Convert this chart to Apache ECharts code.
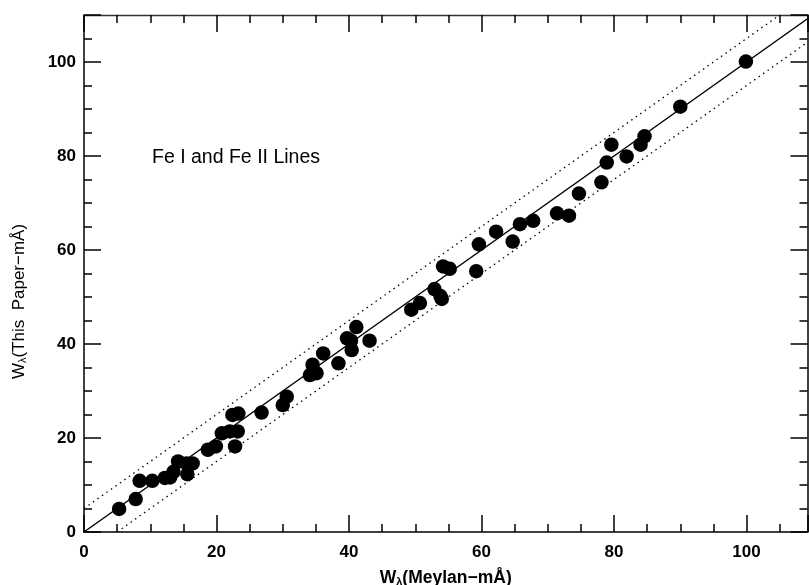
<!DOCTYPE html>
<html>
<head>
<meta charset="utf-8">
<script src="https://cdn.jsdelivr.net/npm/echarts@6/dist/echarts.min.js"></script>
<style>
  html, body { margin: 0; padding: 0; background: #fff; }
  #chart { width: 809px; height: 585px; }
</style>
</head>
<body>
<div id="chart"></div>
<script>
// Equivalent widths of Fe I / Fe II lines (mÅ): Meylan vs. this paper
const meylanW = [
  5.3, 7.8, 8.4, 10.3, 12.2, 13.0, 13.5, 14.2, 15.5, 16.4, 15.6, 18.7, 19.9,
  20.8, 22.0, 23.2, 22.8, 22.4, 23.3, 26.8, 30.0, 30.6, 34.1, 35.1, 34.5,
  36.1, 38.4, 39.7, 40.3, 41.1, 40.4, 43.1, 49.4, 50.7, 52.9, 53.8, 54.0,
  54.2, 55.2, 59.2, 59.6, 62.2, 64.7, 65.8, 67.8, 71.4, 73.2, 74.7, 78.1,
  78.9, 79.6, 81.9, 84.0, 84.6, 90.0, 99.9
];
const thisPaperW = [
  4.9, 7.0, 10.9, 10.9, 11.5, 11.6, 12.8, 15.0, 14.6, 14.6, 12.3, 17.5, 18.2,
  21.0, 21.4, 21.4, 18.2, 24.9, 25.2, 25.4, 27.0, 28.8, 33.4, 33.8, 35.6,
  38.0, 35.9, 41.2, 40.7, 43.6, 38.7, 40.7, 47.3, 48.7, 51.7, 50.2, 49.6,
  56.5, 56.0, 55.5, 61.2, 63.9, 61.8, 65.5, 66.2, 67.8, 67.3, 72.0, 74.4,
  78.6, 82.4, 79.9, 82.4, 84.2, 90.5, 100.1
];
// Reference lines: one-to-one relation and a ±5 mÅ band
const bandOffsets = [5, -5];
const xTickLabels = [0, 20, 40, 60, 80, 100];
const yTickLabels = [0, 20, 40, 60, 80, 100];

const X_MAX = 109.2, Y_MAX = 110;
const FONT = '"Liberation Sans", Arial, Helvetica, sans-serif';

function lineThrough(offset) {
  // y = x + offset, spanning the full axis range (clipped by the grid)
  const x0 = Math.max(0, -offset);
  const x1 = Math.min(X_MAX, Y_MAX - offset);
  return [[x0, x0 + offset], [x1, x1 + offset]];
}

const tickCommon = {
  axisLine: { show: true, onZero: false, lineStyle: { color: '#000', width: 1.5 } },
  axisTick: { show: true, inside: true, length: 17, lineStyle: { color: '#000', width: 1.5 } },
  minorTick: { show: true, splitNumber: 4, length: 8, lineStyle: { color: '#000', width: 1.5 } },
  splitLine: { show: false },
  interval: 20,
  min: 0
};

const chart = echarts.init(document.getElementById('chart'), null, { renderer: 'canvas' });

const xLabel = {
  show: true,
  margin: 12,
  color: '#000',
  fontFamily: FONT,
  fontWeight: 'bold',
  fontSize: 17,
  formatter: v => (xTickLabels.indexOf(v) >= 0 ? String(v) : '')
};
const yLabel = {
  show: true,
  margin: 8,
  color: '#000',
  fontFamily: FONT,
  fontWeight: 'bold',
  fontSize: 17,
  formatter: v => (yTickLabels.indexOf(v) >= 0 ? String(v) : '')
};

chart.setOption({
  animation: false,
  backgroundColor: '#fff',
  grid: {
    left: 84, right: 1.5, top: 15, bottom: 53,
    containLabel: false,
    outerBoundsMode: 'none'
  },
  xAxis: [
    Object.assign({}, tickCommon, {
      type: 'value', max: X_MAX, position: 'bottom',
      axisLabel: xLabel,
      name: '{w|W}{s|λ}{w|(Meylan−mÅ)}',
      nameLocation: 'middle',
      nameGap: 36,
      nameTextStyle: {
        color: '#000', fontFamily: FONT,
        rich: {
          w: { fontSize: 17.5, fontWeight: 'bold', fontFamily: FONT, color: '#000', lineHeight: 20 },
          s: { fontSize: 11, fontWeight: 'bold', fontFamily: FONT, color: '#000', lineHeight: 20, padding: [7, 0, 0, 0] }
        }
      }
    }),
    Object.assign({}, tickCommon, {
      type: 'value', max: X_MAX, position: 'top',
      axisLine: { show: true, onZero: false, lineStyle: { color: '#333', width: 1.4 } },
      axisLabel: { show: false }
    })
  ],
  yAxis: [
    Object.assign({}, tickCommon, {
      type: 'value', max: Y_MAX, position: 'left',
      axisLabel: yLabel,
      name: '{w|W}{s|λ}{w|(This  Paper−mÅ)}',
      nameLocation: 'middle',
      nameGap: 55,
      nameRotate: 90,
      nameTextStyle: {
        color: '#000', fontFamily: FONT,
        padding: [0, 56, 0, 0],
        rich: {
          w: { fontSize: 17, fontFamily: FONT, color: '#000', lineHeight: 20 },
          s: { fontSize: 11, fontFamily: FONT, color: '#000', lineHeight: 20, padding: [7, 0, 0, 0] }
        }
      }
    }),
    Object.assign({}, tickCommon, {
      type: 'value', max: Y_MAX, position: 'right',
      axisLabel: { show: false }
    })
  ],
  graphic: [{
    type: 'text',
    left: 152,
    top: 148,
    style: { text: 'Fe I and Fe II Lines', fill: '#000', font: '19.5px ' + FONT }
  }],
  series: [
    {
      type: 'line',
      data: lineThrough(0),
      symbol: 'none',
      silent: true,
      clip: true,
      lineStyle: { color: '#000', width: 1.5 }
    },
    ...bandOffsets.map(off => ({
      type: 'line',
      data: lineThrough(off),
      symbol: 'none',
      silent: true,
      clip: true,
      lineStyle: { color: '#000', width: 1.3, type: [1.5, 4] }
    })),
    {
      type: 'scatter',
      data: meylanW.map((x, i) => [x, thisPaperW[i]]),
      symbol: 'circle',
      symbolSize: 14.5,
      itemStyle: { color: '#000', opacity: 1 },
      clip: false
    }
  ]
});
</script>
</body>
</html>
